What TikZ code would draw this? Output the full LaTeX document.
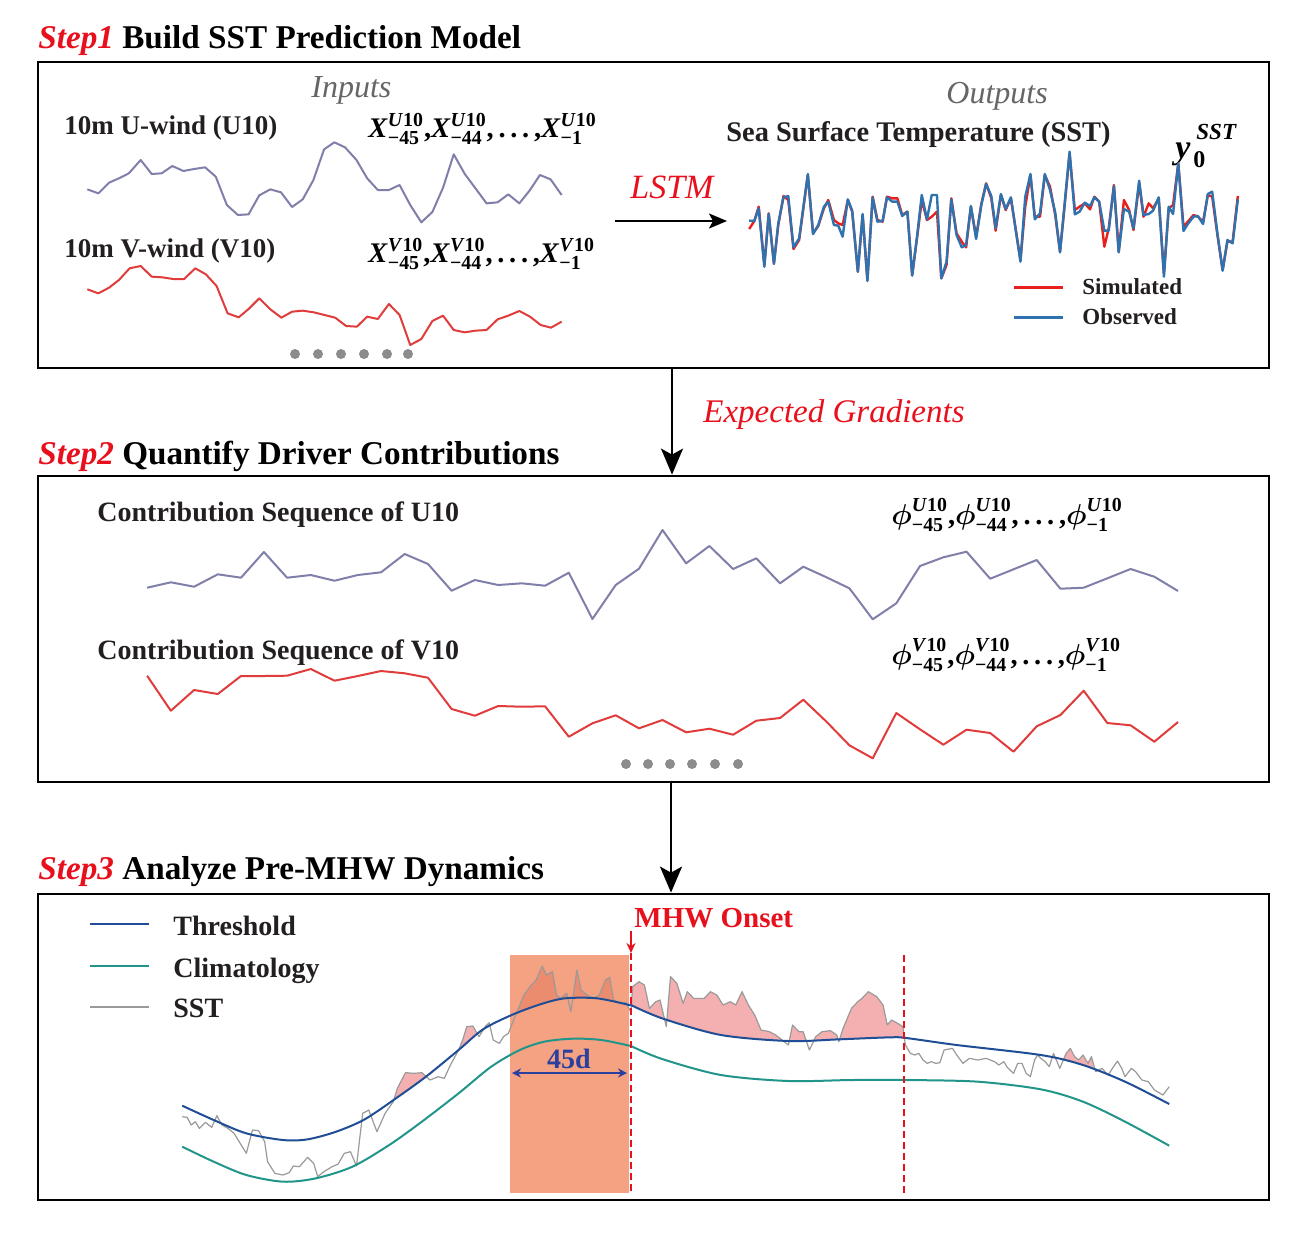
\documentclass[tikz,border=0pt]{standalone}
\usepackage{amsmath}
\usepackage{fontspec}
\setmainfont{Liberation Serif}
\usetikzlibrary{arrows.meta}
\definecolor{stepred}{HTML}{E8101C}
\definecolor{txtdark}{HTML}{231F20}
\definecolor{ingray}{HTML}{666666}
\definecolor{uline}{HTML}{7F7FAA}
\definecolor{vline}{HTML}{E03C3C}
\definecolor{simred}{HTML}{E8201C}
\definecolor{obsblue}{HTML}{2E72B0}
\definecolor{dotgray}{HTML}{8C8C8C}
\definecolor{thrblue}{HTML}{1F4E96}
\definecolor{climteal}{HTML}{21958A}
\definecolor{sstgray}{HTML}{9A9A9A}
\definecolor{orangec}{HTML}{F4A282}
\definecolor{pinkc}{HTML}{F4B0B0}
\definecolor{overc}{HTML}{EC8C6E}
\definecolor{dblue}{HTML}{2B3F9E}
\newcommand\dopath[1]{\edef\mytmp{#1}\mytmp}
\newcommand\bx{\textbf{\textit{X}}}
\newcommand\bphi{\boldsymbol{\phi}}
\newcommand\bsup[1]{\textbf{\textit{#1}10}}
\newcommand\bsub[1]{\textbf{#1}}
\newcommand\sep{\textbf{,}}
\newcommand\dotsep{\textbf{,\,.\,.\,.\,,}}
% step3 data (zoom frames)
\def\thrL{(373,677) (450,720) (530,760) (620,780) (680,778) (750,755) (820,718) (900,652) (970,590) (1050,510) (1110,448) (1180,405) (1250,373) (1310,355) (1390,355) (1472,376)}
\def\cliL{(373,800) (450,845) (530,885) (620,905) (700,895) (790,860) (880,795) (960,725) (1050,640) (1130,560) (1200,510) (1260,485) (1330,476) (1400,480) (1472,498)}
\def\sstL{(373,710) (385,712) (395,735) (405,725) (415,745) (430,727) (445,742) (458,707) (470,735) (485,745) (500,760) (515,790) (530,820) (545,750) (560,752) (575,785) (582,845) (600,880) (620,885) (635,878) (645,858) (660,860) (680,832) (695,850) (705,890) (720,875) (740,860) (755,852) (770,820) (785,815) (800,858) (815,700) (830,690) (850,755) (870,700) (890,665) (900,625) (920,578) (940,580) (960,578) (980,600) (1000,590) (1015,595) (1030,555) (1050,510) (1060,480) (1070,440) (1085,438) (1100,470) (1115,440) (1125,428) (1135,480) (1150,490) (1160,470) (1172,460) (1185,420) (1195,390) (1210,345) (1225,320) (1240,300) (1255,258) (1265,285) (1280,275) (1290,345) (1300,355) (1315,340) (1325,395) (1340,270) (1350,330) (1365,345) (1380,355) (1395,345) (1410,300) (1420,292) (1430,360) (1445,370) (1460,368) (1472,395)}
\def\thrR{(26,375) (100,415) (240,465) (400,483) (520,478) (640,472) (680,474) (800,495) (1000,525) (1100,555) (1200,605) (1305,672)}
\def\cliR{(26,498) (100,537) (240,585) (400,603) (550,600) (680,600) (850,605) (1000,628) (1100,665) (1200,725) (1305,797)}
\def\sstR{(26,395) (30,320) (45,305) (58,315) (70,385) (85,365) (95,360) (110,440) (120,290) (135,310) (150,370) (160,335) (175,355) (200,355) (215,335) (230,345) (245,375) (262,365) (275,375) (290,335) (305,375) (320,405) (335,450) (355,455) (370,465) (385,480) (400,495) (410,435) (425,455) (435,455) (450,510) (465,470) (480,455) (500,452) (515,465) (520,485) (530,445) (550,385) (565,365) (575,355) (590,335) (610,350) (625,375) (635,435) (645,420) (660,430) (672,440) (678,495) (690,520) (700,525) (710,520) (720,540) (730,550) (740,545) (750,550) (760,548) (770,510) (790,505) (800,525) (815,550) (830,535) (850,540) (870,535) (890,545) (900,555) (912,545) (920,562) (935,580) (945,550) (955,550) (965,580) (975,590) (985,540) (992,525) (1000,535) (1010,545) (1020,560) (1030,520) (1045,565) (1060,520) (1070,505) (1080,530) (1090,540) (1100,525) (1112,550) (1120,530) (1130,575) (1145,565) (1160,585) (1170,565) (1182,543) (1192,565) (1200,590) (1215,565) (1225,575) (1240,600) (1255,605) (1270,630) (1290,645) (1305,620)}
\tikzset{
  panel/.style={draw=black, line width=1.4pt, minimum width=615.5pt, minimum height=153pt, inner sep=0pt},
  flowarrow/.style={line width=1.3pt, -{Stealth[length=13pt,width=11pt,inset=3pt]}},
  lstmarrow/.style={line width=1pt, -{Stealth[length=9pt,width=7.5pt,inset=2pt]}},
  txt/.style={anchor=base west, inner sep=0pt, text=txtdark},
  steptitle/.style={txt, text=black, font=\fontsize{16.6}{18}\selectfont\bfseries},
  redital/.style={anchor=base west, inner sep=0pt, text=stepred, font=\fontsize{16.5}{18}\selectfont\itshape},
  grayital/.style={anchor=base west, inner sep=0pt, text=ingray, font=\fontsize{16}{18}\selectfont\itshape},
  lab/.style={txt, font=\fontsize{13.5}{16}\selectfont\bfseries},
  eqn/.style={anchor=base west, inner sep=0pt, font=\fontsize{14.2}{17}\selectfont},
  uplot/.style={draw=uline, line width=1pt, line join=round},
  vplot/.style={draw=vline, line width=1pt, line join=round},
  simplot/.style={draw=simred, line width=1.2pt, line join=round},
  obsplot/.style={draw=obsblue, line width=1.2pt, line join=round},
  thrline/.style={draw=thrblue, line width=1pt},
  climline/.style={draw=climteal, line width=1pt},
  sstline/.style={draw=sstgray, line width=0.6pt, line join=round},
  reddash/.style={draw=stepred, line width=1pt, dash pattern=on 3.5pt off 2pt},
  dotc/.style={fill=dotgray},
}
\begin{document}
\begin{tikzpicture}[x=0.5pt,y=-0.5pt]
\useasboundingbox[fill=white] (0,0) rectangle (1309,1253);

% ---------- panels ----------
\node[panel] (box1) at (653.5,215) {};
\node[panel] (box2) at (653.5,629) {};
\node[panel] (box3) at (653.5,1047) {};

\coordinate (xa) at (672,0);
\draw[flowarrow] (box1.south -| xa) -- (box2.north -| xa);
\coordinate (xb) at (671,0);
\draw[flowarrow] (box2.south -| xb) -- (box3.north -| xb);

% ---------- titles ----------
\node[steptitle] (t1) at (38,48) {\textcolor{stepred}{\itshape Step1} Build SST Prediction Model};
\node[steptitle] (t2) at (38,464) {\textcolor{stepred}{\itshape Step2} Quantify Driver Contributions};
\node[steptitle] (t3) at (38,879) {\textcolor{stepred}{\itshape Step3} Analyze Pre-MHW Dynamics};
\node[redital] (eg) at (703,422) {Expected Gradients};

% ---------- step 1 ----------
\node[grayital] (inp) at (311,97) {Inputs};
\node[grayital] (outp) at (946,103) {Outputs};
\node[lab] (ulab) at (64,134) {10m U-wind (U10)};
\node[lab] (vlab) at (64,257) {10m V-wind (V10)};
\node[eqn] (ueq) at (368,137) {$\bx^{\bsup{U}}_{\bsub{−45}}\sep\bx^{\bsup{U}}_{\bsub{−44}}\dotsep\bx^{\bsup{U}}_{\bsub{−1}}$};
\node[eqn] (veq) at (368,262) {$\bx^{\bsup{V}}_{\bsub{−45}}\sep\bx^{\bsup{V}}_{\bsub{−44}}\dotsep\bx^{\bsup{V}}_{\bsub{−1}}$};

\begin{scope}[shift={(30,60)}, xscale=0.395257, yscale=0.333333]
\draw[uplot] plot coordinates {(145,388) (173,400) (200,368) (225,355) (250,340) (280,300) (308,342) (333,340) (360,318) (388,333) (415,327) (443,322) (470,350) (498,435) (526,465) (553,463) (580,406) (608,388) (635,397) (663,441) (690,418) (717,360) (744,268) (770,247) (797,262) (826,300) (853,355) (880,390) (908,390) (935,375) (962,435) (990,487) (1018,456) (1045,383) (1072,283) (1100,342) (1127,385) (1155,430) (1183,427) (1210,403) (1238,430) (1265,390) (1290,345) (1317,358) (1345,405)};
\draw[vplot] plot coordinates {(145,688) (173,700) (200,683) (225,660) (252,625) (280,618) (308,650) (335,652) (362,657) (390,657) (418,625) (445,643) (472,678) (500,760) (528,772) (553,747) (580,715) (608,748) (636,773) (663,755) (690,752) (718,757) (745,765) (772,773) (800,798) (827,800) (853,770) (880,777) (908,732) (935,765) (962,855) (990,837) (1018,783) (1045,767) (1072,810) (1100,817) (1127,812) (1155,810) (1183,778) (1210,767) (1238,753) (1265,770) (1292,795) (1318,803) (1345,785)};
\end{scope}
\foreach \i/\xx in {1/295,2/318,3/341,4/364,5/387,6/408}
  \fill[dotc] (\xx,354) circle[radius=2.5pt];

\node[redital, font=\fontsize{17}{19}\selectfont\itshape] (lstm) at (630,198) {LSTM};
\coordinate (lstmA) at (615,221);
\coordinate (lstmB) at (727,221);
\draw[lstmarrow] (lstmA) -- (lstmB);

\node[txt, font=\fontsize{14.2}{16}\selectfont\bfseries] (ssttitle) at (726,141) {Sea Surface Temperature (SST)};
\node[anchor=base west, inner sep=0pt, font=\fontsize{17}{19}\selectfont\bfseries\itshape] (yy) at (1175,158) {y};
\node[anchor=base west, inner sep=0pt, font=\fontsize{12}{14}\selectfont\bfseries] (y0) at (1193,167) {0};
\node[anchor=base west, inner sep=0pt, font=\fontsize{11.5}{13}\selectfont\bfseries\itshape] (ysst) at (1196,139) {SST};

\begin{scope}[shift={(600,60)}, xscale=0.434783, yscale=0.333333]
\draw[simplot] plot coordinates {(343,507) (355,483) (365,440) (378,615) (388,460) (400,610) (410,495) (422,408) (433,420) (445,567) (458,540) (478,345) (490,520) (502,498) (515,445) (525,420) (538,480) (548,490) (558,495) (570,420) (580,455) (593,635) (604,465) (615,660) (627,410) (638,480) (650,485) (660,410) (672,415) (684,415) (695,465) (707,455) (718,645) (730,525) (740,420) (752,480) (763,470) (775,455) (785,655) (797,615) (808,415) (820,520) (832,545) (842,562) (853,440) (865,530) (877,432) (888,370) (900,415) (910,512) (922,405) (933,450) (945,415) (967,600) (978,440) (990,345) (1000,470) (1012,470) (1023,345) (1035,380) (1047,465) (1058,575) (1068,445) (1080,280) (1092,450) (1103,440) (1115,430) (1127,448) (1137,410) (1148,425) (1160,560) (1170,505) (1182,375) (1193,575) (1205,420) (1217,450) (1227,510) (1240,370) (1250,470) (1262,430) (1272,445) (1285,415) (1297,640) (1308,445) (1318,435) (1330,310) (1342,500) (1352,485) (1365,465) (1375,470) (1387,485) (1398,405) (1408,410) (1420,525) (1432,630) (1443,545) (1455,545) (1467,408)};
\draw[obsplot] plot coordinates {(343,482) (355,483) (365,445) (378,620) (388,462) (400,612) (410,490) (422,412) (433,408) (445,562) (458,535) (478,342) (490,522) (502,495) (515,440) (525,425) (538,495) (548,497) (558,530) (570,418) (580,452) (593,635) (604,462) (615,663) (627,412) (638,485) (650,483) (660,412) (672,425) (684,425) (695,468) (707,455) (718,647) (730,520) (740,405) (752,478) (763,405) (775,405) (785,655) (797,605) (808,418) (820,525) (832,562) (842,555) (853,438) (865,537) (877,435) (888,372) (900,408) (910,505) (922,402) (933,447) (945,412) (967,605) (978,410) (990,342) (1000,478) (1012,460) (1023,342) (1035,390) (1047,458) (1058,577) (1068,440) (1080,275) (1092,463) (1103,455) (1115,428) (1127,438) (1137,412) (1148,425) (1160,512) (1170,512) (1182,378) (1193,577) (1205,447) (1217,455) (1227,505) (1240,362) (1250,465) (1262,462) (1272,452) (1285,412) (1297,650) (1308,440) (1318,462) (1330,310) (1342,513) (1352,492) (1365,470) (1375,468) (1387,492) (1398,402) (1408,395) (1420,520) (1432,632) (1443,540) (1455,550) (1467,418)};
\end{scope}
\draw[draw=simred, line width=1.5pt] (1014,287) -- (1063,287);
\draw[draw=obsblue, line width=1.5pt] (1014,317) -- (1063,317);
\node[txt, font=\fontsize{11.5}{13}\selectfont\bfseries] (simlab) at (1082,294) {Simulated};
\node[txt, font=\fontsize{11.5}{13}\selectfont\bfseries] (obslab) at (1082,324) {Observed};

% ---------- step 2 ----------
\node[txt, font=\fontsize{14}{16}\selectfont\bfseries] (cu) at (97,521) {Contribution Sequence of U10};
\node[txt, font=\fontsize{14}{16}\selectfont\bfseries] (cv) at (97,659) {Contribution Sequence of V10};
\node[eqn] (peu) at (891,524) {$\bphi^{\bsup{U}}_{\bsub{−45}}\sep\bphi^{\bsup{U}}_{\bsub{−44}}\dotsep\bphi^{\bsup{U}}_{\bsub{−1}}$};
\node[eqn] (pev) at (891,664) {$\bphi^{\bsup{V}}_{\bsub{−45}}\sep\bphi^{\bsup{V}}_{\bsub{−44}}\dotsep\bphi^{\bsup{V}}_{\bsub{−1}}$};
\draw[uplot] plot coordinates {(147.1,587.7) (170.8,582.3) (194.1,586.7) (217.8,574.3) (241.0,577.7) (263.9,552) (287.1,577.7) (310.8,575) (334.5,580.7) (357.8,575) (381.0,572.3) (404.7,554) (428.0,564) (451.6,590.7) (474.9,580) (498.2,585) (521.8,583.3) (545.1,585.7) (568.8,572.7) (592.4,619) (615.7,585) (639.0,568.7) (662.5,530) (686.1,563.3) (709.4,546) (733.1,569) (756.3,558.3) (780.0,583.3) (803.3,566.7) (826.5,577.3) (849.4,588.3) (872.7,619.3) (896.3,603.3) (920.0,566) (943.3,557.3) (966.5,551.7) (990.2,578.7) (1013.5,569.3) (1036.7,560) (1060.4,588.7) (1083.7,587.7) (1107.3,578.3) (1130.6,569) (1154.3,576.7) (1178.0,591)};
\draw[vplot] plot coordinates {(147.1,675.7) (170.8,710.7) (194.1,690) (217.8,694) (241.0,676) (263.9,676) (287.1,675.7) (310.8,669) (334.5,680.7) (357.8,676) (381.0,671) (404.7,673.3) (428.0,677.7) (451.6,709) (474.9,715.7) (498.2,706) (521.8,706.7) (545.1,706.3) (568.8,736.7) (592.4,723.3) (615.7,715.3) (639.0,728.3) (662.5,720) (686.1,732.3) (709.4,728.7) (733.1,734.7) (756.3,720.7) (780.0,718) (803.3,699.7) (826.5,721.7) (849.4,745.3) (872.7,758.3) (896.3,713) (920.0,729.3) (943.3,744.7) (966.5,729.7) (990.2,733) (1013.5,751.7) (1036.7,726.3) (1060.4,715) (1083.7,690.7) (1107.3,723) (1130.6,725.3) (1154.3,741.7) (1178.0,722)};
\foreach \i/\xx in {1/626,2/648,3/670,4/692,5/715,6/738}
  \fill[dotc] (\xx,764) circle[radius=2.5pt];

% ---------- step 3 ----------
\draw[thrline] (90,924) -- (149,924);
\draw[climline] (90,966) -- (149,966);
\draw[sstline, line width=0.8pt] (90,1007) -- (149,1007);
\node[txt, font=\fontsize{14}{16}\selectfont\bfseries] (lthr) at (173,935) {Threshold};
\node[txt, font=\fontsize{14}{16}\selectfont\bfseries] (lcli) at (173,977) {Climatology};
\node[txt, font=\fontsize{14}{16}\selectfont\bfseries] (lsst) at (173,1017) {SST};

\begin{scope}[shift={(30,880)}, xscale=0.408163, yscale=0.333333]
  \fill[orangec] (1175,225) rectangle (1468,938);
  \begin{scope}
    \dopath{\noexpand\clip plot[smooth] coordinates {\thrL} -- (1472,0) -- (373,0) -- cycle;}
    \clip (880,0) rectangle (1472,1000);
    \dopath{\noexpand\fill[pinkc] plot coordinates {\sstL} -- (1472,1000) -- (373,1000) -- cycle;}
    \clip (1175,225) rectangle (1468,938);
    \dopath{\noexpand\fill[overc] plot coordinates {\sstL} -- (1472,1000) -- (373,1000) -- cycle;}
  \end{scope}
  \dopath{\noexpand\draw[sstline] plot coordinates {\sstL};}
  \dopath{\noexpand\draw[climline] plot[smooth] coordinates {\cliL};}
  \dopath{\noexpand\draw[thrline] plot[smooth] coordinates {\thrL};}
\end{scope}
\begin{scope}[shift={(620,880)}, xscale=0.420875, yscale=0.333333]
  \begin{scope}
    \dopath{\noexpand\clip plot[smooth] coordinates {\thrR} -- (1305,0) -- (26,0) -- cycle;}
    \clip (26,0) rectangle (1125,1000);
    \dopath{\noexpand\fill[pinkc] plot coordinates {\sstR} -- (1305,1000) -- (26,1000) -- cycle;}
  \end{scope}
  \dopath{\noexpand\draw[sstline] plot coordinates {\sstR};}
  \dopath{\noexpand\draw[climline] plot[smooth] coordinates {\cliR};}
  \dopath{\noexpand\draw[thrline] plot[smooth] coordinates {\thrR};}
\end{scope}

\coordinate (dA1) at (631,953);
\coordinate (dA2) at (631,1193);
\draw[reddash] (dA1) -- (dA2);
\coordinate (dB1) at (904,955);
\coordinate (dB2) at (904,1193);
\draw[reddash] (dB1) -- (dB2);
\coordinate (onA) at (631,931);
\coordinate (onB) at (631,953);
\draw[draw=stepred, line width=0.9pt, -{Stealth[length=5pt,width=4.5pt]}] (onA) -- (onB);
\node[txt, text=stepred, font=\fontsize{14.5}{16}\selectfont\bfseries] (onset) at (634,927) {MHW Onset};

\coordinate (d45a) at (512,1073);
\coordinate (d45b) at (627,1073);
\draw[draw=dblue, line width=1pt, {Stealth[length=4.5pt,width=4.5pt]}-{Stealth[length=4.5pt,width=4.5pt]}] (d45a) -- (d45b);
\node[anchor=base, inner sep=0pt, text=dblue, font=\fontsize{14}{16}\selectfont\bfseries] (l45) at (569,1068) {45d};
\end{tikzpicture}
\end{document}
